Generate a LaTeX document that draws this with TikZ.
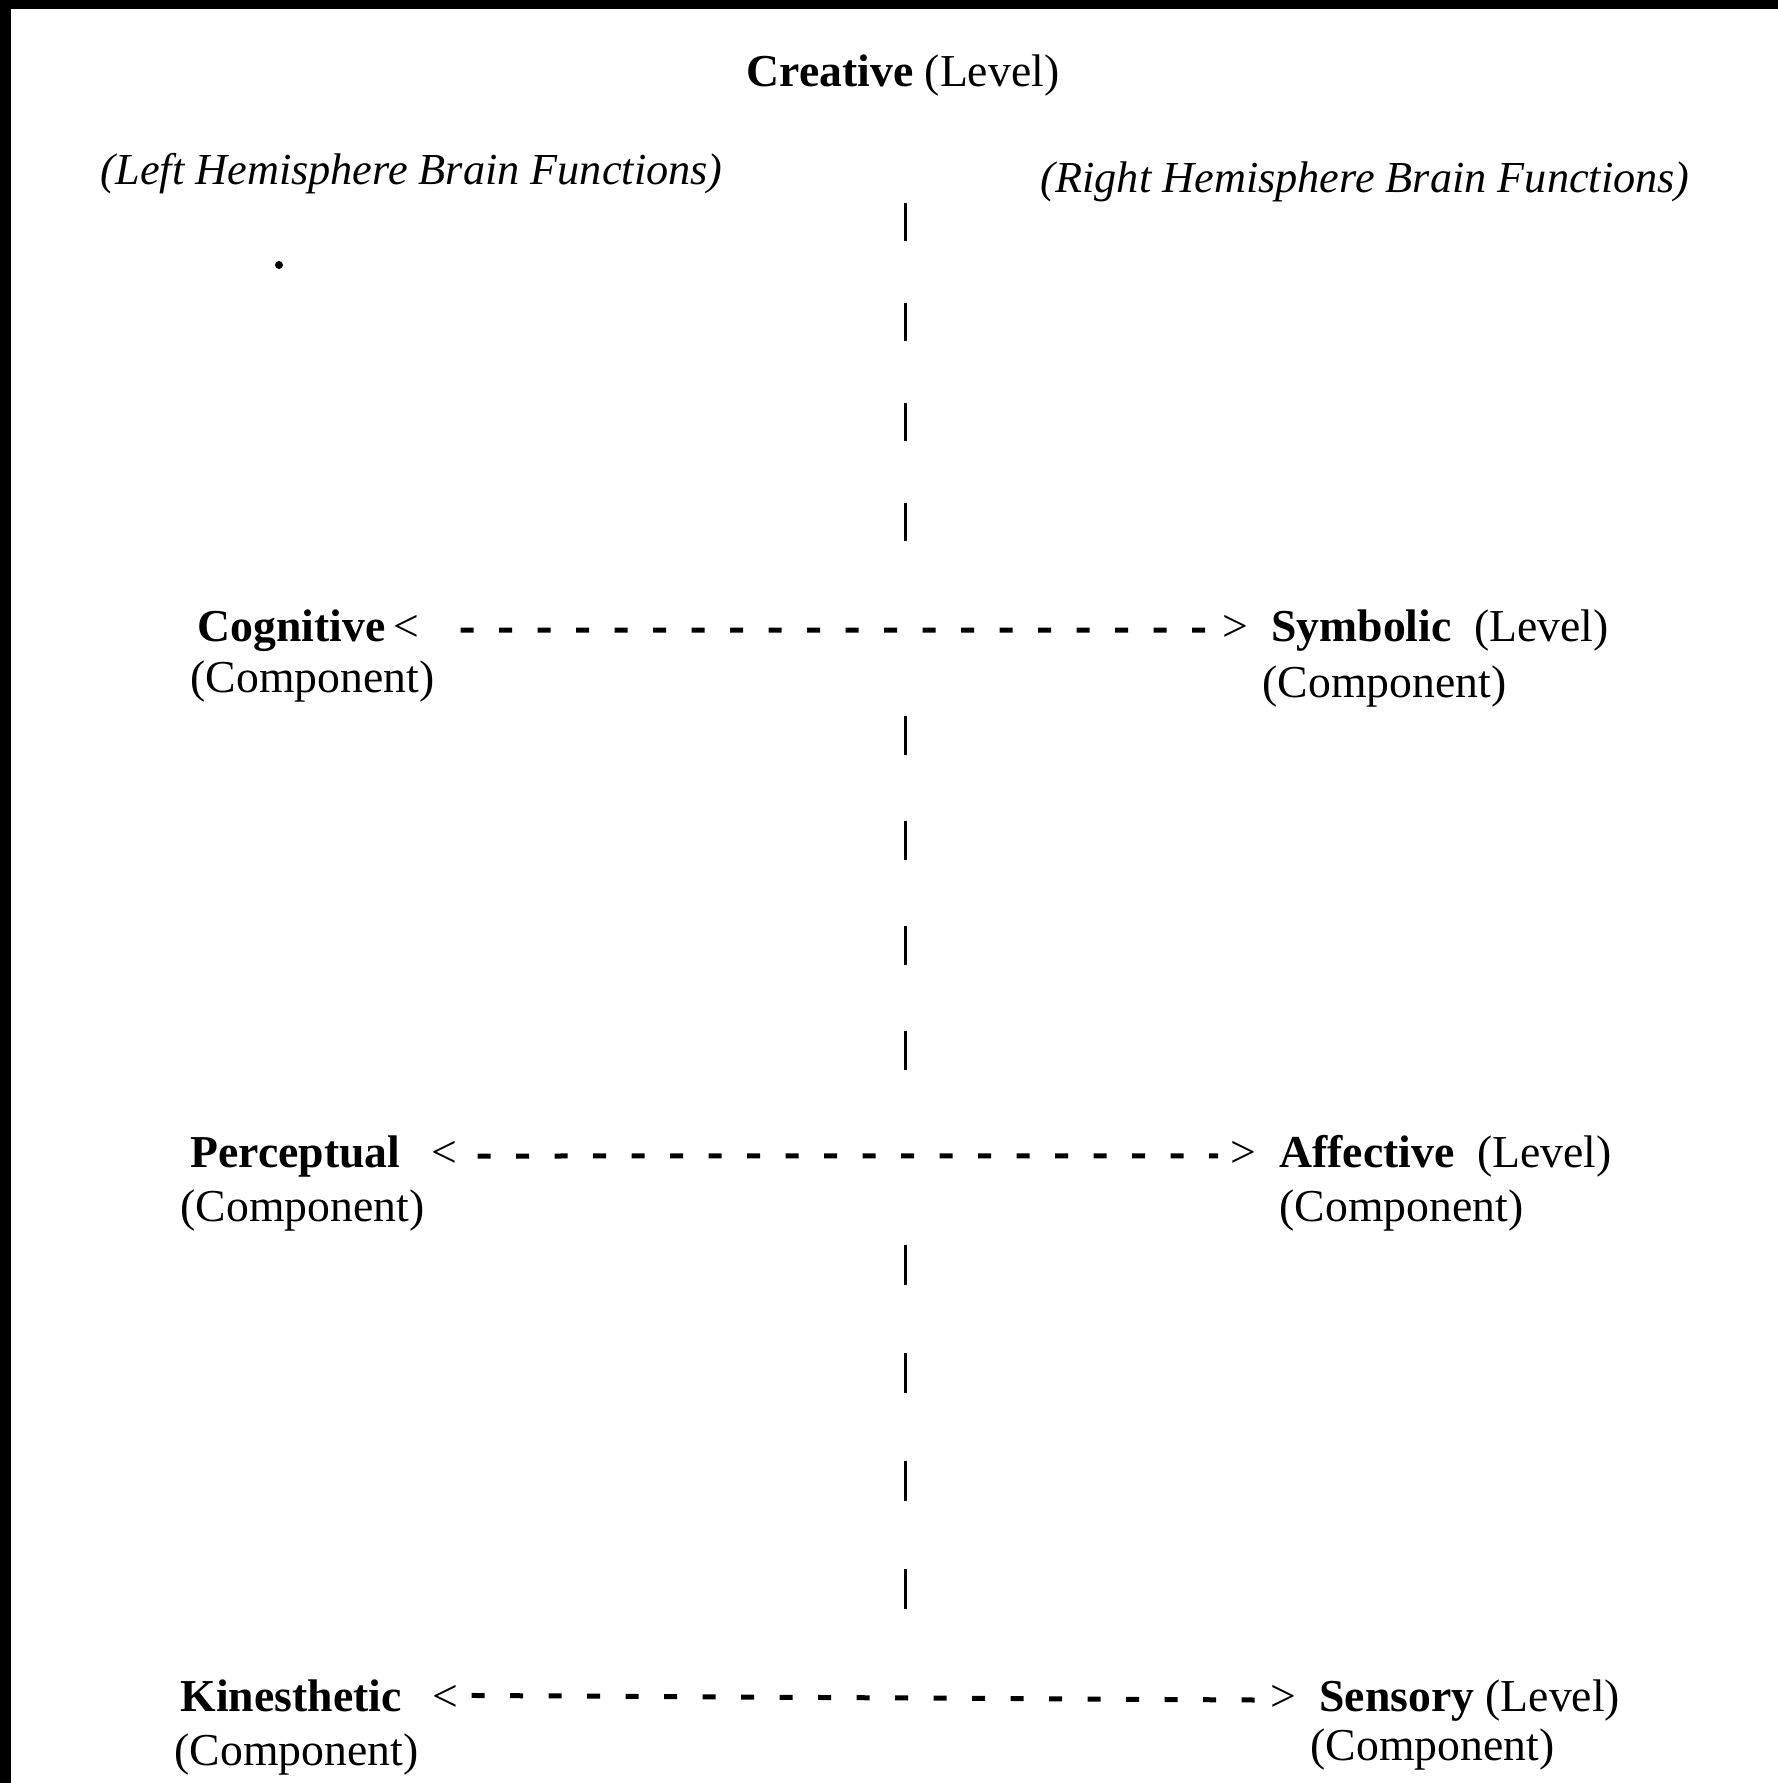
\documentclass[tikz,border=0pt]{standalone}
\usepackage{fontspec}
\setmainfont{Liberation Serif}
\tikzset{
  lbl/.style={inner sep=0pt, anchor=base west, font=\fontsize{13}{16}\selectfont},
  side/.style={lbl, font=\fontsize{12.6}{15}\selectfont\itshape},
  hdash/.style={line width=0.05cm, dash pattern=on 0.13cm off 0.255cm},
  vdash/.style={line width=0.03cm, dash pattern=on 0.39cm off 0.66cm}
}
\begin{document}
\begin{tikzpicture}
\useasboundingbox (0,0) rectangle (17.78,-17.83);
% scan edges
\fill[black] (0,0) rectangle (17.78,-0.09);
\fill[black] (0,0) rectangle (0.11,-17.83);
% top
\node[lbl,anchor=base] (creative) at (9.03,-0.86) {\textbf{Creative} (Level)};
\node[side] (lefth) at (1.00,-1.84) {(Left Hemisphere Brain Functions)};
\node[side] (righth) at (10.40,-1.92) {(Right Hemisphere Brain Functions)};
\fill (2.79,-2.65) circle (0.04);
% rows
\node[lbl] (cog) at (1.97,-6.41) {\textbf{Cognitive}\,<};
\node[lbl] (cogc) at (1.90,-6.92) {(Component)};
\node[lbl] (sym) at (12.22,-6.41) {>\ \ \textbf{Symbolic}\ \ (Level)};
\node[lbl] (symc) at (12.62,-6.97) {(Component)};
\node[lbl] (per) at (1.90,-11.67) {\textbf{Perceptual}\hspace{.67em}<};
\node[lbl] (perc) at (1.80,-12.21) {(Component)};
\node[lbl] (aff) at (12.30,-11.67) {>\ \ \textbf{Affective}\ \ (Level)};
\node[lbl] (affc) at (12.79,-12.21) {(Component)};
\node[lbl] (kin) at (1.80,-17.11) {\textbf{Kinesthetic}\hspace{.67em}<};
\node[lbl] (kinc) at (1.74,-17.65) {(Component)};
\node[lbl] (sen) at (12.70,-17.11) {>\ \ \textbf{Sensory} (Level)};
\node[lbl] (senc) at (13.10,-17.60) {(Component)};
\draw[hdash, shorten <=0.41cm, shorten >=0.15cm] (cog.east) -- (sym.west);
\draw[hdash, shorten <=0.2cm, shorten >=0.12cm] (per.east) -- (aff.west);
\draw[hdash, shorten <=0.13cm, shorten >=0.15cm] (kin.east) -- (sen.west);
% middle line
\coordinate (v0) at (9.05,-2.03);
\coordinate (v1) at (9.05,-5.46);
\coordinate (v2) at (9.05,-7.16);
\coordinate (v3) at (9.05,-10.70);
\coordinate (v4) at (9.05,-12.45);
\coordinate (v5) at (9.05,-16.09);
\draw[vdash, dash pattern=on 0.38cm off 0.62cm] (v0) -- (v1);
\draw[vdash] (v2) -- (v3);
\draw[vdash, dash pattern=on 0.40cm off 0.68cm] (v4) -- (v5);
\end{tikzpicture}
\end{document}
